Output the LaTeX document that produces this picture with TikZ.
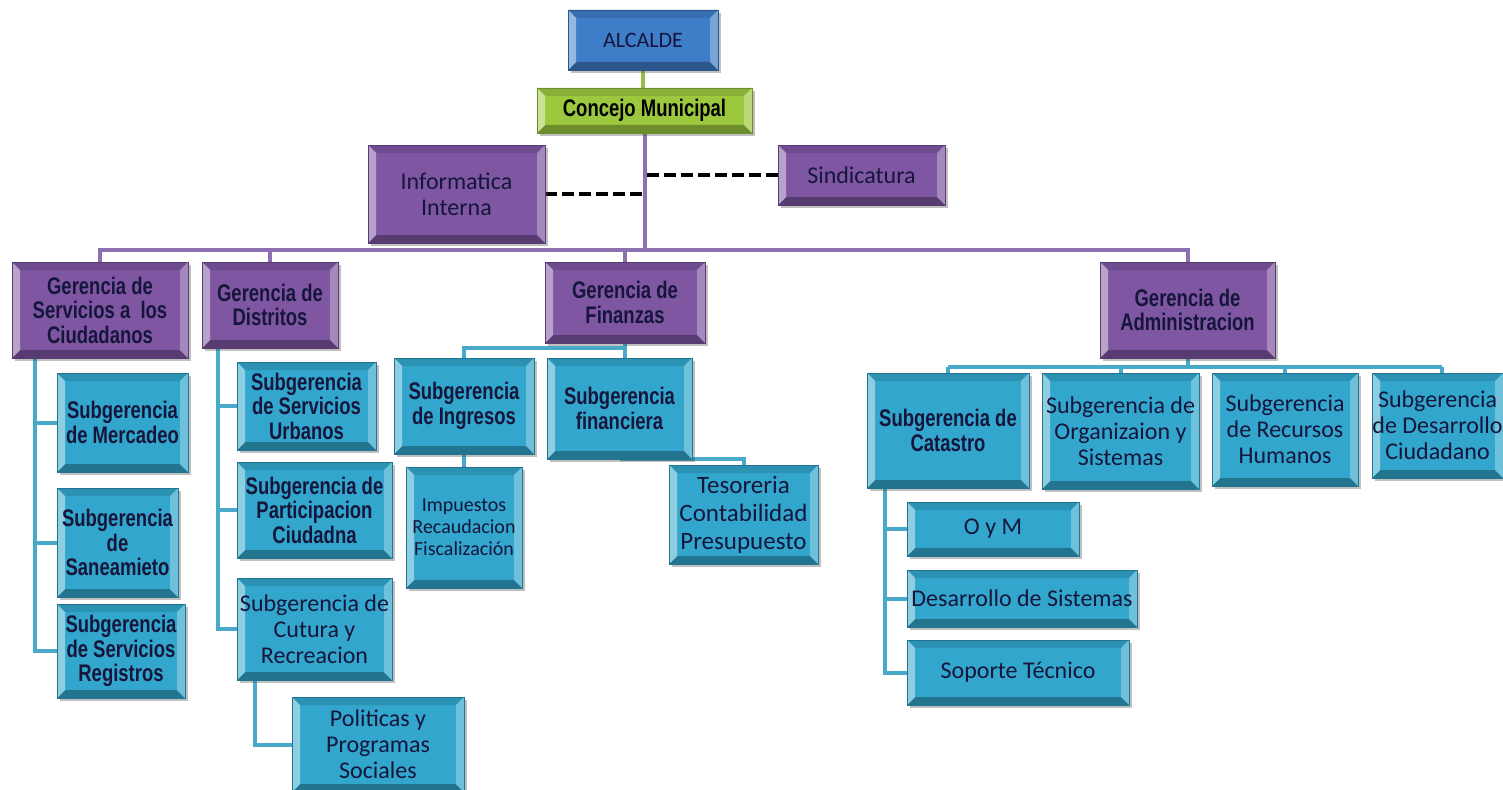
\documentclass[tikz,border=0pt]{standalone}
\usepackage{fontspec}
\usetikzlibrary{calc,shadows}
\newfontfamily\calib{Carlito}
\newfontfamily\bfn[FakeStretch=0.77]{Liberation Sans}
\definecolor{purp}{RGB}{126,86,162}
\definecolor{cyn}{RGB}{50,166,204}
\definecolor{blu}{RGB}{62,125,200}
\definecolor{grn}{RGB}{156,200,62}
\definecolor{txt}{RGB}{22,22,60}
\definecolor{plc}{RGB}{140,112,176}
\definecolor{clc}{RGB}{72,170,200}
\definecolor{glc}{RGB}{150,190,70}
\pgfdeclarelayer{bg}
\pgfsetlayers{bg,main}
\tikzset{
  bev/.style={fill=#1, draw=#1!70!black, line width=0.8pt,
    inner sep=0pt, align=center, text=txt,
    drop shadow={shadow xshift=3pt,shadow yshift=-3pt,opacity=.35,fill=black!70},
    path picture={
      \coordinate (pa) at (path picture bounding box.south west);
      \coordinate (pb) at (path picture bounding box.north east);
      \coordinate (pc) at (pa |- pb);
      \coordinate (pd) at (pb |- pa);
      \coordinate (qa) at ($(pa)+(8pt,8pt)$);
      \coordinate (qb) at ($(pb)+(-8pt,-8pt)$);
      \coordinate (qc) at ($(pc)+(8pt,-8pt)$);
      \coordinate (qd) at ($(pd)+(-8pt,8pt)$);
      \fill[#1!88!black] (pc) -- (pb) -- (qb) -- (qc) -- cycle;
      \fill[#1!70!black] (pa) -- (pd) -- (qd) -- (qa) -- cycle;
      \fill[#1!55!white] (pa) -- (pc) -- (qc) -- (qa) -- cycle;
      \fill[#1!70!white] (pd) -- (pb) -- (qb) -- (qd) -- cycle;
    }},
  pbox/.style={bev=purp},
  cbox/.style={bev=cyn},
  fb/.style={font={\bfn\bfseries\fontsize{24}{24.5}\selectfont}},
  fc/.style={font={\calib\fontsize{24}{26}\selectfont}},
  pl/.style={draw=plc, line width=4pt},
  cl/.style={draw=clc, line width=4pt},
  gl/.style={draw=glc, line width=4pt},
  dl/.style={draw=black, line width=3.8pt, dash pattern=on 12pt off 5pt},
}
\newcommand\obox[7]{\node[#2, minimum width={#5pt-#3pt}, minimum height={#6pt-#4pt}] (#1) at ({(#3+#5)/2},{(#4+#6)/2}) {#7};}
\begin{document}
\begin{tikzpicture}[x=1pt,y=-1pt]
\useasboundingbox (0,0) rectangle (1503,789);
% top
\obox{alc}{bev=blu,font={\calib\fontsize{22}{24}\selectfont}}{568}{10}{718}{70}{ALCALDE}
\obox{con}{bev=grn,fb,text=black}{537}{88}{752}{133}{Concejo Municipal}
\obox{inf}{pbox,fc}{368}{145}{545}{243}{Informatica\\Interna}
\obox{sin}{pbox,fc}{778}{145}{945}{205}{Sindicatura}
% gerencias
\obox{gsc}{pbox,fb}{12}{262}{188}{358}{Gerencia de\\Servicios a\ \ los\\Ciudadanos}
\obox{gdi}{pbox,fb}{202}{262}{338}{348}{Gerencia de\\Distritos}
\obox{gfi}{pbox,fb}{545}{262}{705}{343}{Gerencia de\\Finanzas}
\obox{gad}{pbox,fb}{1100}{262}{1275}{358}{Gerencia de\\Administracion}
% servicios
\obox{sme}{cbox,fb}{57}{373}{188}{472}{Subgerencia\\de Mercadeo}
\obox{ssa}{cbox,fb}{57}{488}{178}{597}{Subgerencia\\de\\Saneamieto}
\obox{sre}{cbox,fb}{57}{604}{185}{698}{Subgerencia\\de Servicios\\Registros}
% distritos
\obox{sur}{cbox,fb}{237}{362}{376}{450}{Subgerencia\\de Servicios\\Urbanos}
\obox{spc}{cbox,fb}{237}{462}{392}{558}{Subgerencia de\\Participacion\\Ciudadna}
\obox{scr}{cbox,fc}{237}{578}{392}{680}{Subgerencia de\\Cutura y\\Recreacion}
\obox{pol}{cbox,fc}{292}{697}{464}{792}{Politicas y\\Programas\\Sociales}
% finanzas
\obox{ing}{cbox,fb}{394}{358}{534}{454}{Subgerencia\\de Ingresos}
\obox{fin}{cbox,fb}{547}{358}{692}{459}{Subgerencia\\financiera}
\obox{imp}{cbox,font={\calib\fontsize{20}{22}\selectfont}}{406}{467}{522}{588}{Impuestos\\Recaudacion\\Fiscalización}
\obox{tes}{cbox,font={\calib\fontsize{25}{28}\selectfont}}{669}{465}{818}{564}{Tesoreria\\Contabilidad\\Presupuesto}
% administracion
\obox{cat}{cbox,fb}{867}{373}{1029}{488}{Subgerencia de\\Catastro}
\obox{org}{cbox,fc}{1042}{373}{1199}{489}{Subgerencia de\\Organizaion y\\Sistemas}
\obox{rhu}{cbox,fc}{1212}{373}{1358}{486}{Subgerencia\\de Recursos\\Humanos}
\obox{sdc}{cbox,fc}{1372}{373}{1503}{478}{Subgerencia\\de Desarrollo\\Ciudadano}
\obox{oym}{cbox,fc}{907}{502}{1079}{556}{O y M}
\obox{dsi}{cbox,fc}{907}{570}{1137}{627}{Desarrollo de Sistemas}
\obox{sop}{cbox,fc}{907}{640}{1129}{705}{Soporte Técnico}
% connectors
\begin{pgfonlayer}{bg}
\fill[white] (0,0) rectangle (1503,789);
\draw[gl] (alc.south) -- (alc.south |- con.north);
\path (gad.north) ++(0,-12) coordinate (busR);
\draw[pl] (con.south) -- (con.south |- busR);
\draw[pl] (gsc.north) |- (busR) -- (gad.north);
\draw[pl] (gdi.north) -- (gdi.north |- busR);
\draw[pl] (gfi.north) -- (gfi.north |- busR);
\draw[dl] (inf.east) -- (inf.east -| con.south);
\draw[dl] (sin.west) -- (sin.west -| con.south);
% servicios tree
\coordinate (t1) at ([xshift=23pt]gsc.south west);
\draw[cl] (t1) |- (sre.west);
\draw[cl] (sme.west) -- (sme.west -| t1);
\draw[cl] (ssa.west) -- (ssa.west -| t1);
% distritos tree
\coordinate (t2) at ([xshift=16pt]gdi.south west);
\draw[cl] (t2) |- (scr.west);
\draw[cl] (sur.west) -- (sur.west -| t2);
\draw[cl] (spc.west) -- (spc.west -| t2);
\draw[cl] ([xshift=18pt]scr.south west) |- (pol.west);
% finanzas
\path (gfi.south) ++(0,5) coordinate (fb1);
\draw[cl] (gfi.south) -- (fb1) -| (ing.north);
\draw[cl] (fb1) -- (fb1 |- fin.north);
\draw[cl] (ing.south) -- (imp.north);
\draw[cl] (fin.south) -| (tes.north);
% administracion
\path (gad.south) ++(0,9) coordinate (ab);
\draw[cl] (gad.south) -- (ab);
\draw[cl] (cat.north |- ab) -- ([xshift=4pt]sdc.north |- ab);
\draw[cl] (cat.north) -- (cat.north |- ab);
\draw[cl] (org.north) -- (org.north |- ab);
\draw[cl] (rhu.north) -- (rhu.north |- ab);
\draw[cl] ([xshift=4pt]sdc.north) -- ([xshift=4pt]sdc.north |- ab);
\coordinate (t3) at ([xshift=18pt]cat.south west);
\draw[cl] (t3) |- (sop.west);
\draw[cl] (oym.west) -- (oym.west -| t3);
\draw[cl] (dsi.west) -- (dsi.west -| t3);
\end{pgfonlayer}
\end{tikzpicture}
\end{document}
